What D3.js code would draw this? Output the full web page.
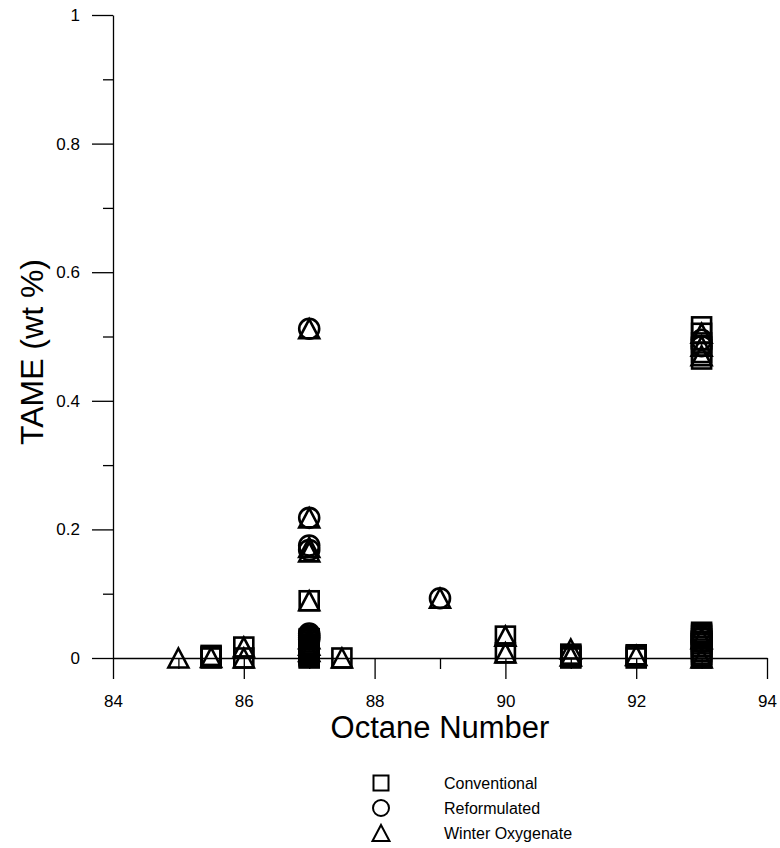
<!DOCTYPE html>
<html><head><meta charset="utf-8">
<script src="https://cdn.jsdelivr.net/npm/d3@7"></script>
<style>
body{margin:0;background:#fff;}
text{font-family:Arial,"Liberation Sans",sans-serif;fill:#000;}
</style></head>
<body>
<script>
// ---- data ----
const xTicks = [84, 86, 88, 90, 92, 94];
const xMinorTicks = [85, 87, 89, 91, 93];
const yTicks = [0, 0.2, 0.4, 0.6, 0.8, 1];
const yTickLabels = ["0", "0.2", "0.4", "0.6", "0.8", "1"];
const yMinorTicks = [0.1, 0.3, 0.5, 0.7, 0.9];

const seriesNames = ["Conventional", "Reformulated", "Winter Oxygenate"];

const convOctane = [
  85.5, 85.5, 85.5,
  86, 86,
  87, 87, 87, 87, 87, 87, 87, 87, 87, 87, 87, 87, 87, 87, 87,
  87.5,
  90, 90,
  91, 91, 91, 91,
  92, 92, 92,
  93, 93, 93, 93, 93,
  93, 93, 93, 93, 93, 93, 93, 93, 93, 93, 93, 93];
const convTAME = [
  0.004, 0.002, 0,
  0.017, 0,
  0.089, 0.03, 0.028, 0.025, 0.022, 0.02, 0.018, 0.015, 0.012, 0.01, 0.008, 0.006, 0.004, 0.002, 0,
  0,
  0.034, 0.008,
  0.006, 0.004, 0.002, 0,
  0.005, 0.003, 0,
  0.515, 0.505, 0.49, 0.475, 0.465,
  0.04, 0.037, 0.034, 0.03, 0.026, 0.022, 0.018, 0.014, 0.01, 0.006, 0.003, 0];

const refOctane = [87, 87, 87, 87, 87, 87, 87, 87, 89, 93, 93, 93, 93, 93];
const refTAME = [0.512, 0.218, 0.175, 0.168, 0.038, 0.035, 0.032, 0.029, 0.093, 0.495, 0.485, 0.038, 0.032, 0.025];

const winOctane = [85, 85.5, 86, 86, 87, 87, 87, 87, 87, 87, 87, 87, 87.5, 89, 90, 90, 91, 91, 92,
  93, 93, 93, 93, 93];
const winTAME = [0, 0.001, 0.017, 0, 0.512, 0.218, 0.172, 0.165, 0.089, 0.03, 0.02, 0.01, 0, 0.093, 0.034, 0.008, 0.014, 0.003, 0.004,
  0.505, 0.485, 0.47, 0.03, 0];

// ---- layout ----
const W = 780, H = 848;
const svg = d3.select("body").append("svg").attr("width", W).attr("height", H);

const x = d3.scaleLinear().domain([84, 94]).range([113, 767]);
const y = d3.scaleLinear().domain([0, 1]).range([658, 15]);

// minor ticks
svg.append("g").attr("transform", `translate(${x(84)},0)`)
  .call(d3.axisLeft(y).tickValues(yMinorTicks).tickSize(10).tickFormat(""))
  .call(g => g.select(".domain").remove());
svg.append("g").attr("transform", `translate(0,${y(0)})`)
  .call(d3.axisBottom(x).tickValues(xMinorTicks).tickSize(11).tickFormat(""))
  .call(g => g.select(".domain").remove());

// major axes
svg.append("g").attr("transform", `translate(${x(84)},0)`)
  .call(d3.axisLeft(y).tickValues(yTicks).tickSize(21).tickSizeOuter(0).tickPadding(12)
    .tickFormat((d, i) => yTickLabels[i]));
svg.append("g").attr("transform", `translate(0,${y(0)})`)
  .call(d3.axisBottom(x).tickValues(xTicks).tickSize(21).tickSizeOuter(0).tickPadding(16)
    .tickFormat(d3.format("d")));
svg.selectAll(".tick text").attr("font-size", 17).attr("font-family", "Arial, 'Liberation Sans', sans-serif");
svg.selectAll(".domain, .tick line").attr("stroke", "#000").attr("stroke-width", 1.3);

// titles
svg.append("text").attr("x", (x(84) + x(94)) / 2).attr("y", 738)
  .attr("text-anchor", "middle").attr("font-size", 31).text("Octane Number");
svg.append("text").attr("transform", "translate(43,352) rotate(-90)")
  .attr("text-anchor", "middle").attr("font-size", 32).text("TAME (wt %)");

// marker shapes
function drawSquare(g, cx, cy, s) {
  g.append("rect").attr("x", cx - s / 2).attr("y", cy - s / 2).attr("width", s).attr("height", s);
}
function drawCircle(g, cx, cy, r) {
  g.append("circle").attr("cx", cx).attr("cy", cy).attr("r", r);
}
function drawTriangle(g, cx, cy, s) {
  const h = s * 0.95;
  g.append("path").attr("d", `M${cx},${cy - h / 2}L${cx + s / 2},${cy + h / 2}L${cx - s / 2},${cy + h / 2}Z`);
}

const marks = svg.append("g").attr("fill", "none").attr("stroke", "#000").attr("stroke-width", 2.6)
  .attr("stroke-linejoin", "miter");

convOctane.forEach((o, i) => drawSquare(marks, x(o), y(convTAME[i]), 19));
refOctane.forEach((o, i) => drawCircle(marks, x(o), y(refTAME[i]), 10));
winOctane.forEach((o, i) => drawTriangle(marks, x(o), y(winTAME[i]), 20));

// legend
const leg = svg.append("g");
const legY = [783, 808, 833];
const legSym = leg.append("g").attr("fill", "none").attr("stroke", "#000").attr("stroke-width", 2);
drawSquare(legSym, 381, legY[0], 15);
drawCircle(legSym, 381, legY[1], 8);
drawTriangle(legSym, 381, legY[2], 17);
seriesNames.forEach((n, i) => {
  leg.append("text").attr("x", 444).attr("y", legY[i]).attr("dy", "0.35em")
    .attr("font-size", 16).text(n);
});
</script>
</body></html>
